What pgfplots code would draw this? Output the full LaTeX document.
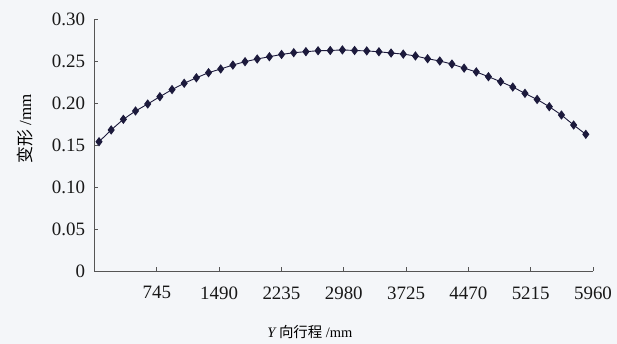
\documentclass[border=0pt]{standalone}
\usepackage{pgfplots}
\pgfplotsset{compat=1.18}
\usepackage{fontspec}
\setmainfont{Liberation Serif}
\newfontfamily\cjk{Noto Sans CJK SC}
\definecolor{bg}{HTML}{F4F6F9}
\definecolor{axc}{HTML}{555555}
\definecolor{mk}{HTML}{1C1A3C}
\begin{document}
\begin{tikzpicture}
\useasboundingbox[fill=bg] (-94.5bp,-73bp) rectangle (522.5bp,271bp);
\begin{axis}[
  at={(0,0)}, anchor=south west,
  scale only axis, width=498.5bp, height=252bp,
  xmin=0, xmax=5960, ymin=0, ymax=0.30,
  axis x line*=bottom, axis y line*=left,
  axis line style={axc, line width=0.9pt, -},
  xtick={745,1490,2235,2980,3725,4470,5215,5960},
  ytick={0,0.05,0.10,0.15,0.20,0.25,0.30},
  yticklabels={0,0.05,0.10,0.15,0.20,0.25,0.30},
  xticklabels={745,1490,2235,2980,3725,4470,5215,5960},
  tick style={axc, line width=0.8pt},
  major tick length=4bp,
  tick align=inside,
  ticklabel style={font=\fontsize{19}{19}\selectfont, text=black!90},
  yticklabel style={xshift=-6bp},
  xticklabel style={yshift=-12bp},
  xlabel={\fontsize{14.5}{15}\selectfont\textit{Y}\,{\cjk 向行程} /mm},
  ylabel={\fontsize{17}{17}\selectfont{\cjk 变形} /mm},
  xlabel style={at={(axis description cs:0.432,-0.242)}, anchor=center},
  ylabel style={at={(axis description cs:-0.140,0.564)}, anchor=center},
  clip=false,
]
\addplot[mk, line width=0.9pt, mark=diamond*, mark size=4pt, mark options={fill=mk, draw=mk}] coordinates {
(54,0.1539) (199.5,0.1679) (345,0.1806) (490.5,0.1905) (636,0.1988)
(781.5,0.2075) (927,0.2160) (1072.5,0.2235) (1218,0.2300) (1363.5,0.2361)
(1509,0.2405) (1654.5,0.2452) (1800,0.2492) (1945.5,0.2524) (2091,0.2551)
(2236.5,0.2578) (2382,0.2599) (2527.5,0.2611) (2673,0.2622) (2818.5,0.2625)
(2964,0.2632) (3109.5,0.2625) (3255,0.2620) (3400.5,0.2610) (3546,0.2595)
(3691.5,0.2582) (3837,0.2560) (3982.5,0.2527) (4128,0.2500) (4273.5,0.2464)
(4419,0.2415) (4564.5,0.2370) (4710,0.2313) (4855.5,0.2254) (5001,0.2190)
(5146.5,0.2115) (5292,0.2042) (5437.5,0.1956) (5583,0.1857) (5728.5,0.1738)
(5874,0.1627)
};
\end{axis}
\end{tikzpicture}
\end{document}
